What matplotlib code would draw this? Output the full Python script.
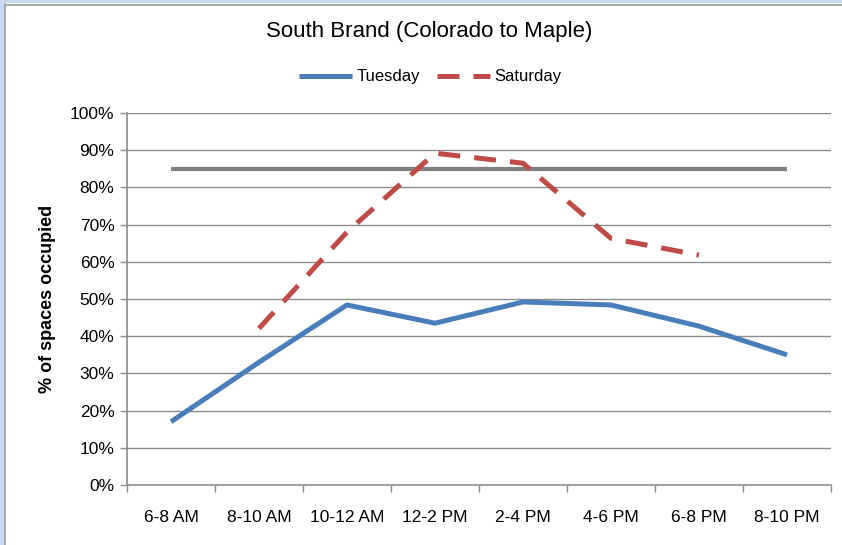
import matplotlib
matplotlib.use("Agg")
import matplotlib.pyplot as plt
from matplotlib.patches import Rectangle
from matplotlib.lines import Line2D

plt.rcParams['font.family'] = ['Liberation Sans Narrow', 'Liberation Sans', 'DejaVu Sans']

categories = ["6-8 AM", "8-10 AM", "10-12 AM", "12-2 PM", "2-4 PM", "4-6 PM", "6-8 PM", "8-10 PM"]
tuesday = [0.17, 0.33, 0.484, 0.435, 0.492, 0.484, 0.427, 0.35]
saturday = [None, 0.421, 0.68, 0.892, 0.865, 0.663, 0.618, None]
target = [0.85] * len(categories)
y_ticks = [0.0, 0.1, 0.2, 0.3, 0.4, 0.5, 0.6, 0.7, 0.8, 0.9, 1.0]

W, H = 842, 545
fig = plt.figure(figsize=(W / 100, H / 100), dpi=100)
fig.patch.set_facecolor("white")

# window frame strips
fig.add_artist(Rectangle((0, 0), 4 / W, 1, transform=fig.transFigure, color="#C6D9F0", lw=0))
fig.add_artist(Rectangle((0, 1 - 3 / H), 1, 3 / H, transform=fig.transFigure, color="#C6D9F0", lw=0))
fig.add_artist(Line2D([5 / W, 5 / W], [0, 1 - 4 / H], transform=fig.transFigure, color="#9A9A9A", lw=1.2))
fig.add_artist(Line2D([5 / W, 1], [1 - 4.5 / H, 1 - 4.5 / H], transform=fig.transFigure, color="#9A9A9A", lw=1.2))

left, right, bottom, top = 127 / W, 831 / W, 1 - 485 / H, 1 - 113 / H
ax = fig.add_axes([left, bottom, right - left, top - bottom])

x = list(range(len(categories)))
grid_c = "#8C8C8C"
for v in y_ticks[1:]:
    ax.axhline(v, color=grid_c, lw=1.0, zorder=1)

ax.plot(x, target, color="#808080", lw=3.0, solid_capstyle="butt", zorder=2)
ax.plot(x, tuesday, color="#4A7EBB", lw=3.6, solid_capstyle="butt", zorder=3, label="Tuesday")
sx = [i for i, v in enumerate(saturday) if v is not None]
sy = [v for v in saturday if v is not None]
ax.plot(sx, sy, color="#BE4B48", lw=3.6, dashes=(4.4, 2.8), dash_capstyle="butt", zorder=3, label="Saturday")

ax.set_xlim(-0.5, len(categories) - 0.5)
ax.set_ylim(0, 1)
ax.set_yticks(y_ticks)
ax.set_yticklabels([f"{int(round(v * 100))}%" for v in y_ticks])
ax.set_xticks([i - 0.5 for i in range(len(categories) + 1)])
ax.set_xticklabels([])
ax.set_xticks(x, minor=True)
ax.set_xticklabels(categories, minor=True)
ax.tick_params(axis="x", which="major", length=5, color=grid_c, width=1.0, direction="out")
ax.tick_params(axis="x", which="minor", length=0, pad=18, labelsize=12.5)
ax.tick_params(axis="y", length=5, color=grid_c, width=1.0, direction="out", labelsize=12.5, pad=4)

for s in ("top", "right"):
    ax.spines[s].set_visible(False)
for s in ("left", "bottom"):
    ax.spines[s].set_color(grid_c)
    ax.spines[s].set_linewidth(1.2)

ax.set_ylabel("% of spaces occupied", fontsize=13, fontweight="bold", labelpad=10)
fig.text(429 / W, 1 - 32 / H, "South Brand (Colorado to Maple)",
         ha="center", va="center", fontsize=16, fontweight="medium")
fig.legend(loc="center", bbox_to_anchor=(430 / W, 1 - 77 / H), ncol=2, frameon=False,
           fontsize=12, handlelength=3.2, columnspacing=1.0, handletextpad=0.25)

fig.savefig("out.png", dpi=100)
